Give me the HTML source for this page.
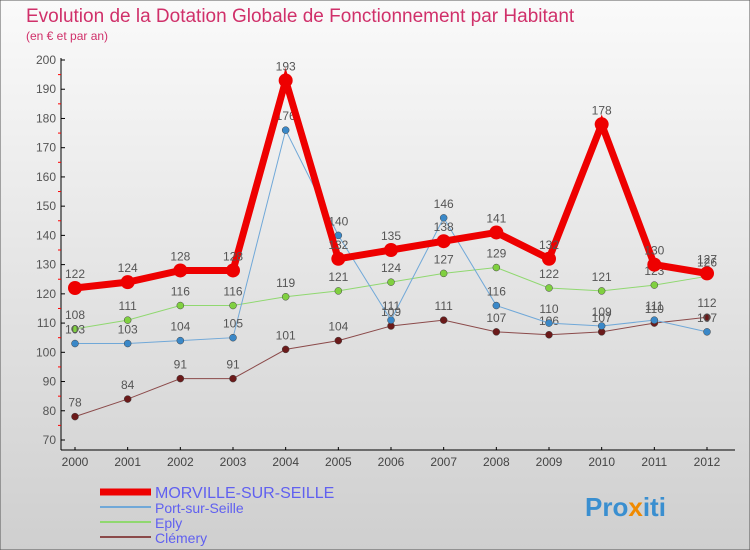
<!DOCTYPE html>
<html><head><meta charset="utf-8"><style>
body{margin:0;}
svg{display:block;font-family:"Liberation Sans",sans-serif;}
</style></head><body>
<svg id="c" width="750" height="550">
<defs><linearGradient id="bg" x1="0" y1="0" x2="0" y2="1"><stop offset="0" stop-color="#fafafa"/><stop offset="1" stop-color="#cfcfcf"/></linearGradient></defs>
<rect width="750" height="550" fill="url(#bg)" stroke="#555" stroke-width="1"/>
<text x="26" y="22" font-size="19" fill="#d0306a">Evolution de la Dotation Globale de Fonctionnement par Habitant</text>
<text x="26" y="40" font-size="12" fill="#d0306a">(en € et par an)</text>
<g id="axes"></g><g id="series"></g><g id="legend"></g>
<text x="585" y="516" font-size="26" font-weight="bold" fill="#3a8fd0">Pro<tspan fill="#f08a00">x</tspan>iti</text>
</svg>
<script>
const years=[2000,2001,2002,2003,2004,2005,2006,2007,2008,2009,2010,2011,2012];
const yTicks=[70,80,90,100,110,120,130,140,150,160,170,180,190,200];
const morville=[122,124,128,128,193,132,135,138,141,132,178,130,127];
const port=[103,103,104,105,176,140,111,146,116,110,109,111,107];
const eply=[108,111,116,116,119,121,124,127,129,122,121,123,126];
const clemery=[78,84,91,91,101,104,109,111,107,106,107,110,112];
const NS="http://www.w3.org/2000/svg";
const X=i=>75+i*(707-75)/12;
const Y=v=>440-(v-70)*(380/130);
function mk(t,a,p){const e=document.createElementNS(NS,t);for(const k in a)e.setAttribute(k,a[k]);p.appendChild(e);return e;}
const ax=document.getElementById('axes');
let e=mk('line',{x1:61,y1:58,x2:61,y2:450,stroke:'#000'},ax);


e=mk('line',{x1:61,y1:450,x2:735,y2:450,stroke:'#000'},ax);


yTicks.forEach(v=>{
 mk('line',{x1:61,y1:Y(v),x2:65,y2:Y(v),stroke:'#000'},ax);
 if(v<200)mk('line',{x1:58,y1:Y(v+5),x2:61,y2:Y(v+5),stroke:'#f00'},ax);
 const t=mk('text',{x:56,y:Y(v)+4,'font-size':12,fill:'#555','text-anchor':'end'},ax);t.textContent=v;
 
 
});
years.forEach((y,i)=>{
 mk('line',{x1:X(i),y1:447,x2:X(i),y2:450,stroke:'#000'},ax);
 const t=mk('text',{x:X(i),y:466,'font-size':12,fill:'#444','text-anchor':'middle'},ax);t.textContent=y;
 
 
});
const sg=document.getElementById('series');
const S=[
 {n:'clemery',d:clemery,c:'#8b4a4a',dot:'#6b1a1a',w:1,r:3.5},
 {n:'eply',d:eply,c:'#90d870',dot:'#80d040',w:1,r:3.5},
 {n:'port-sur-seille',d:port,c:'#70a8d8',dot:'#3a88c8',w:1,r:3.5},
 {n:'morville',d:morville,c:'#ee0000',dot:'#ee0000',w:7,r:7}
];
S.forEach(s=>{
 const g=mk('g',{},sg);
 
 
 mk('polyline',{points:s.d.map((v,i)=>X(i)+','+Y(v)).join(' '),fill:'none',stroke:s.c,'stroke-width':s.w},g);
 s.d.forEach((v,i)=>{
  const p=mk('circle',{cx:X(i),cy:Y(v),r:s.r,fill:s.dot,stroke:s.w>1?'none':'#444','stroke-width':0.5},g);
  
  
  const t=mk('text',{x:X(i),y:Y(v)-10,'font-size':12,fill:'#555','text-anchor':'middle'},g);t.textContent=v;
 });
});
const lg=document.getElementById('legend');
const L=[['MORVILLE-SUR-SEILLE','#ee0000',7,16],['Port-sur-Seille','#70a8d8',2,14],['Eply','#90d870',2,14],['Clémery','#8b4a4a',2,14]];
L.forEach((l,i)=>{
 const y=492+i*15;
 const g=mk('g',{},lg);
 
 
 mk('line',{x1:100,y1:y,x2:151,y2:y,stroke:l[1],'stroke-width':l[2]},g);
 const t=mk('text',{x:155,y:y+6,'font-size':l[3],fill:'#6060f0'},g);t.textContent=l[0];
});
</script>
</body></html>
